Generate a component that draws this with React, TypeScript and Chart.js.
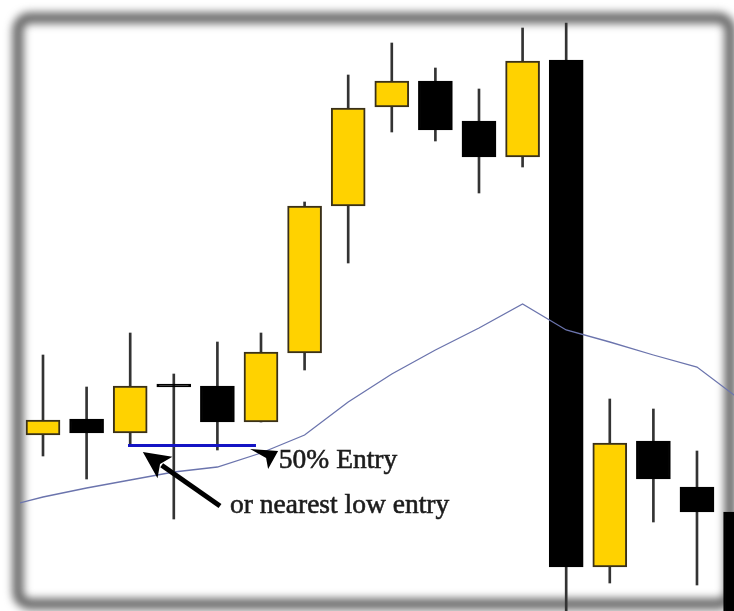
import React, { useEffect, useRef } from "react";
import { Chart, registerables } from "chart.js";

Chart.register(...registerables);

// Candle index (x position) and OHLC values
const idx = [1, 2, 3, 4, 5, 6, 7, 8, 9, 10, 11, 12, 13, 14, 15, 16, 17];
const opens = [176, 192, 178, 224, 225, 189, 258, 405, 504, 530, 490, 454, 551, 44, 170, 124, 99];
const highs = [256, 224, 278, 237, 269, 278, 409, 536, 568, 543, 522, 583, 588, 212, 202, 160, 105];
const lows = [155, 132, 166, 92, 161, 189, 241, 348, 479, 470, 418, 444, -20, 28, 89, 26, -40];
const closes = [191, 178, 225, 224, 189, 259, 405, 503, 530, 481, 454, 550, 44, 168, 132, 99, -30];

// Moving average line
const maIdx = [0, 1, 2, 3, 4, 5, 6, 7, 8, 9, 10, 11, 12, 13, 14, 15, 16, 17];
const maValues = [103, 114, 123, 131, 139, 144, 158, 176, 209, 237, 261, 283, 307, 281, 269, 256, 244, 211];

// Entry line
const entryLineX = [2.95, 5.885];
const entryLevel = 165.5;

// Annotations
const bigArrowFrom = [5.06, 105];
const bigArrowTo = [3.29, 159];
const smallMarkerTip = [5.75, 162];
const label1 = "50% Entry";
const label1Pos = [6.41, 143];
const label2 = "or nearest low entry";
const label2Pos = [5.29, 98];

const X_MIN = 0.4725;
const X_MAX = 16.849;

const framePlugin = {
  id: "frame",
  beforeDatasetsDraw(chart: any) {
    const ctx = chart.ctx;
    const w = chart.width;
    const h = chart.height;
    ctx.save();
    ctx.fillStyle = "#ffffff";
    ctx.fillRect(0, 0, w, h);
    ctx.filter = "blur(4px)";
    ctx.strokeStyle = "#666666";
    ctx.lineWidth = 11;
    ctx.beginPath();
    ctx.roundRect(18, 18, 712, 586, 12);
    ctx.stroke();
    ctx.restore();
  },
};

const annotationPlugin = {
  id: "annots",
  afterDatasetsDraw(chart: any) {
    const ctx = chart.ctx;
    const xs = chart.scales.x;
    const ys = chart.scales.y;
    const px = (v: number) => xs.getPixelForValue(v);
    const py = (v: number) => ys.getPixelForValue(v);
    ctx.save();
    // big arrow
    const x1 = px(bigArrowFrom[0]), y1 = py(bigArrowFrom[1]);
    const x2 = px(bigArrowTo[0]), y2 = py(bigArrowTo[1]);
    const ang = Math.atan2(y2 - y1, x2 - x1);
    const headLen = 27, headW = 13;
    const bx = x2 - headLen * Math.cos(ang), by = y2 - headLen * Math.sin(ang);
    ctx.strokeStyle = "#000";
    ctx.lineWidth = 5;
    ctx.beginPath();
    ctx.moveTo(x1, y1);
    ctx.lineTo(bx + 4 * Math.cos(ang), by + 4 * Math.sin(ang));
    ctx.stroke();
    ctx.fillStyle = "#000";
    ctx.beginPath();
    ctx.moveTo(x2, y2);
    ctx.lineTo(bx + headW * Math.sin(ang), by - headW * Math.cos(ang));
    ctx.lineTo(bx + 6 * Math.cos(ang), by + 6 * Math.sin(ang));
    ctx.lineTo(bx - headW * Math.sin(ang), by + headW * Math.cos(ang));
    ctx.closePath();
    ctx.fill();
    // small marker
    const tx = px(smallMarkerTip[0]), ty = py(smallMarkerTip[1]);
    ctx.beginPath();
    ctx.moveTo(tx, ty);
    ctx.lineTo(tx + 28, ty + 2);
    ctx.lineTo(tx + 18, ty + 20);
    ctx.lineTo(tx + 16, ty + 9);
    ctx.closePath();
    ctx.fill();
    // labels
    ctx.fillStyle = "#1c1c1c";
    ctx.strokeStyle = "#1c1c1c";
    ctx.lineWidth = 0.6;
    ctx.font = "27.5px 'Liberation Serif', serif";
    ctx.textBaseline = "alphabetic";
    ctx.textAlign = "left";
    ctx.fillText(label1, px(label1Pos[0]), py(label1Pos[1]));
    ctx.strokeText(label1, px(label1Pos[0]), py(label1Pos[1]));
    ctx.fillText(label2, px(label2Pos[0]), py(label2Pos[1]));
    ctx.strokeText(label2, px(label2Pos[0]), py(label2Pos[1]));
    ctx.restore();
  },
};

export default function App() {
  const ref = useRef<HTMLCanvasElement>(null);
  useEffect(() => {
    if (!ref.current) return;
    const bull = idx.map((_, i) => closes[i] > opens[i]);
    const bodyColors = bull.map((b) => (b ? "#ffd200" : "#000000"));
    const bodyBorders = bull.map((b) => (b ? "#3a3018" : "#000000"));
    const chart = new Chart(ref.current, {
      type: "bar",
      data: {
        datasets: [
          {
            type: "bar",
            data: idx.map((x, i) => ({ x, y: [lows[i], highs[i]] })) as any,
            backgroundColor: "#333333",
            barThickness: 2,
            grouped: false,
            order: 4,
          } as any,
          {
            type: "bar",
            data: idx.map((x, i) => ({ x, y: [opens[i], closes[i]] })) as any,
            backgroundColor: bodyColors,
            borderColor: bodyBorders,
            borderWidth: 2,
            borderSkipped: false,
            barThickness: 34,
            minBarLength: 3,
            grouped: false,
            order: 3,
          } as any,
          {
            type: "line",
            data: maIdx.map((x, i) => ({ x, y: maValues[i] })) as any,
            borderColor: "#6b74ad",
            borderWidth: 1.3,
            pointRadius: 0,
            tension: 0,
            order: 2,
          } as any,
          {
            type: "line",
            data: entryLineX.map((x) => ({ x, y: entryLevel })) as any,
            borderColor: "#1414c4",
            borderWidth: 3,
            pointRadius: 0,
            order: 1,
          } as any,
        ],
      },
      options: {
        animation: false,
        responsive: false,
        events: [],
        layout: { padding: { left: 20, right: 0, top: 0, bottom: 0 } },
        plugins: { legend: { display: false }, tooltip: { enabled: false } },
        scales: {
          x: { type: "linear", min: X_MIN, max: X_MAX, display: false, offset: false },
          y: { type: "linear", min: 0, max: 611, display: false },
        },
      } as any,
      plugins: [framePlugin, annotationPlugin],
    });
    return () => chart.destroy();
  }, []);
  return (
    <div style={{ position: "fixed", left: 0, top: 0, width: 734, height: 611 }}>
      <canvas ref={ref} width={734} height={611} />
    </div>
  );
}
